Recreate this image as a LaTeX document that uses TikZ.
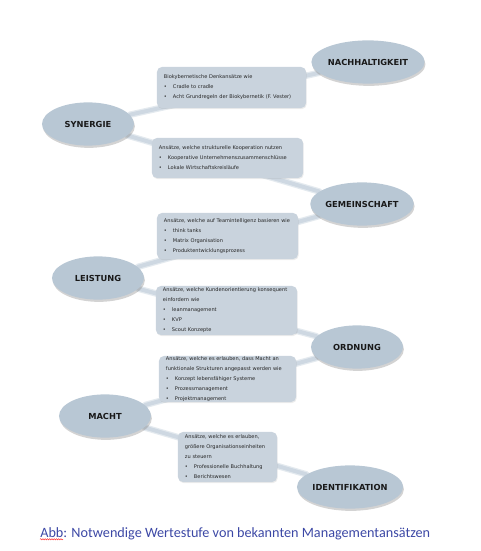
\documentclass[tikz,border=0pt]{standalone}
\usepackage{fontspec}
\setmainfont{DejaVu Sans}
\newfontfamily\capfont{Carlito}
\usetikzlibrary{shapes.geometric, shadows, backgrounds, decorations.pathmorphing}
\definecolor{ellfill}{RGB}{184,199,212}
\definecolor{boxfill}{RGB}{201,211,221}
\definecolor{linkcol}{RGB}{206,216,226}
\definecolor{capblue}{RGB}{60,72,165}
\newcommand{\bitem}[1]{\mbox{\makebox[6.4pt][l]{\textbullet}#1}}

\begin{document}
\begin{tikzpicture}[x=0.025cm, y=-0.025cm,
	elli/.style={ellipse, fill=ellfill, minimum width=2.3cm, minimum height=1.08cm, inner sep=0pt,
		font=\fontsize{5.9}{7}\selectfont\bfseries, text=black!90,
		drop shadow={opacity=0.35, shadow xshift=0.6pt, shadow yshift=-1.6pt}},
	infobox/.style={rounded corners=3.5pt, fill=boxfill, inner xsep=0.175cm, inner ysep=0pt, align=left,
		font=\fontsize{3.6}{7.1}\selectfont, text=black!85,
		drop shadow={opacity=0.15, shadow xshift=0.5pt, shadow yshift=-0.8pt}},
	linkwide/.style={line width=4.6pt, linkcol!55, line cap=round},
	link/.style={line width=2.8pt, linkcol, line cap=round},
	squig/.style={red!80, line width=0.35pt, decorate, decoration={snake, amplitude=0.45pt, segment length=1.6pt}}]
			\useasboundingbox (0,0) rectangle (480,551);
			\node[infobox, text width=3.375cm, minimum height=1.025cm] (vester) at (231.5,87.5)
			{\mbox{Biokybernetische Denkansätze wie}\\ \bitem{Cradle to cradle}\\ \bitem{Acht Grundregeln der Biokybernetik (F. Vester)}};
			\node[infobox, text width=3.425cm, minimum height=1.0cm] (koop) at (227.5,158)
			{\mbox{Ansätze, welche strukturelle Kooperation nutzen}\\ \bitem{Kooperative Unternehmenszusammenschlüsse}\\ \bitem{Lokale Wirtschaftskreisläufe}};
			\node[infobox, text width=3.175cm, minimum height=1.15cm] (team) at (227.5,236)
			{\mbox{Ansätze, welche auf Teamintelligenz basieren wie}\\ \bitem{think tanks}\\ \bitem{Matrix Organisation}\\ \bitem{Produktentwicklungsprozess}};
			\node[infobox, text width=3.175cm, minimum height=1.225cm] (kunde) at (226.5,310.5)
			{\mbox{Ansätze, welche Kundenorientierung konsequent}\\ \mbox{einfordern wie}\\ \bitem{leanmanagement}\\ \bitem{KVP}\\ \bitem{Scout Konzepte}};
			\node[infobox, text width=3.075cm, minimum height=1.15cm] (struk) at (227.5,379)
			{\mbox{Ansätze, welche es erlauben, dass Macht an}\\ \mbox{funktionale Strukturen angepasst werden wie}\\ \bitem{Konzept lebensfähiger Systeme}\\ \bitem{Prozessmanagement}\\ \bitem{Projektmanagement}};
			\node[infobox, text width=2.125cm, minimum height=1.25cm] (orga) at (227.5,457)
			{\mbox{Ansätze, welche es erlauben,}\\ \mbox{größere Organisationseinheiten}\\ \mbox{zu steuern}\\ \bitem{Professionelle Buchhaltung}\\ \bitem{Berichtswesen}};
			\node[elli] (nach) at (368,62) {NACHHALTIGKEIT};
			\node[elli] (syn) at (88,124) {SYNERGIE};
			\node[elli] (gem) at (362,204) {GEMEINSCHAFT};
			\node[elli] (leis) at (98,278) {LEISTUNG};
			\node[elli] (ord) at (357,347) {ORDNUNG};
			\node[elli] (macht) at (105,416) {MACHT};
			\node[elli] (ident) at (350,487) {IDENTIFIKATION};
			\begin{scope}[on background layer]
				\foreach \a/\b in {nach/syn, syn/gem, gem/leis, leis/ord, ord/macht, macht/ident} {
					\draw[linkwide] (\a) -- (\b);
					\draw[link] (\a) -- (\b);
				}
			\end{scope}
			\node[anchor=base west, inner sep=0pt, text=capblue, font=\capfont\fontsize{10.1}{12}\selectfont] (cap) at (40,537)
			{Abb: Notwendige Wertestufe von bekannten Managementansätzen};
			\draw[squig] ([yshift=-1.6pt]cap.base west) -- ++(23,0);
		\end{tikzpicture}
\end{document}
